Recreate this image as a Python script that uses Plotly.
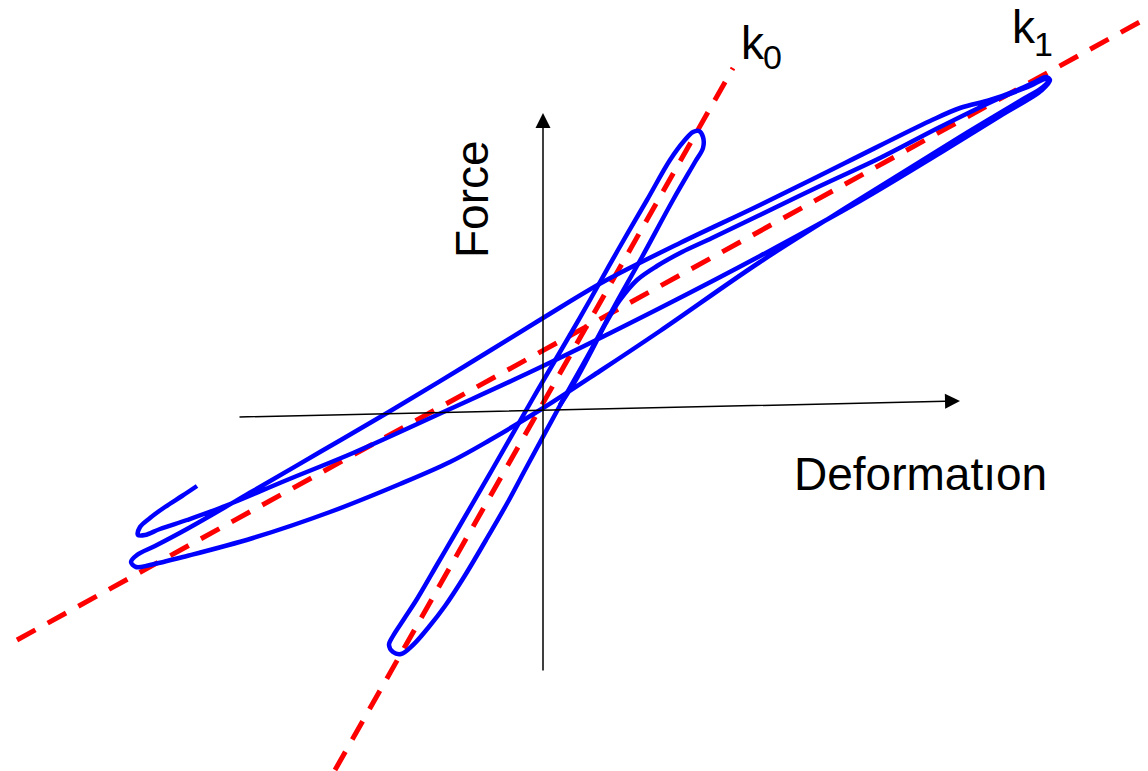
import plotly.graph_objects as go

# ---- data (deformation, force) in arbitrary units, origin at axes crossing ----
# small-amplitude cycle along k0
k0_cycle_deformation = [-142, -150, -154, -150, -139, -126, -105, -84, -51, -11, 24, 47, 75, 104, 127, 141, 150, 156,
                        160, 160, 152, 130, 99, 71, 48, 20, -18, -34, -57, -79, -98, -115, -130, -142]
k0_cycle_force = [-242, -240, -233, -224, -207, -187, -151, -115, -58, 12, 72, 112, 162, 212, 252, 271, 280, 281,
                  275, 264, 250, 212, 155, 105, 62, 12, -58, -88, -128, -165, -194, -216, -233, -242]

# large-amplitude path along k1 (in time order)
loading_1_deformation = [17, 34, 49, 63, 77, 94, 114, 139, 169, 217, 277, 337, 397, 457, 487, 502, 506]
loading_1_force = [7, 34, 62, 89, 112, 132, 146, 160, 174, 197, 226, 254, 285, 314, 326, 333, 332]

unloading_1_deformation = [500, 477, 417, 317, 217, 117, 57, -3, -53, -93, -143, -213, -290, -356, -393, -407, -412]
unloading_1_force = [325, 311, 275, 213, 150, 81, 41, 2, -28, -50, -72, -100, -126, -144, -153, -155, -150]

loading_2_deformation = [-406, -388, -356, -290, -223, -156, -78, 0, 60, 137, 217,
                         302, 387, 417, 447, 472, 492, 503, 507]
loading_2_force = [-143, -134, -117, -79, -40, -1, 46, 94, 130, 169, 207,
                   249, 291, 304, 312, 321, 330, 335, 332]

unloading_2_deformation = [499, 457, 397, 317, 217, 117, 0, -93, -190, -256, -323, -356, -383,
                           -398, -405, -403, -393, -378, -361, -346]
unloading_2_force = [322, 296, 259, 211, 156, 104, 46, 3, -41, -68, -96, -108, -117,
                     -123, -123, -115, -106, -95, -84, -74]

# stiffness reference lines
k0_line_deformation = [-208, 190]
k0_line_force = [-358, 344]
k1_line_deformation = [-526, 604]
k1_line_force = [-228, 394]

# coordinate axes (start, end)
h_axis_deformation = [-305, 417]
h_axis_force = [-5, 11]
v_axis_deformation = [0, 0]
v_axis_force = [-260, 299]

BLUE = "#0000ff"
RED = "#ff0000"
FONT = "Liberation Sans, Arial, sans-serif"

fig = go.Figure()

# red dashed stiffness lines
for xs, ys in [(k1_line_deformation, k1_line_force), (k0_line_deformation, k0_line_force)]:
    fig.add_trace(go.Scatter(x=xs, y=ys, mode="lines",
                             line=dict(color=RED, width=5, dash="21px,14px"),
                             hoverinfo="skip"))

# blue hysteresis curves
fig.add_trace(go.Scatter(x=k0_cycle_deformation, y=k0_cycle_force, mode="lines",
                         line=dict(color=BLUE, width=4.5, shape="spline", smoothing=1.0),
                         hoverinfo="skip"))

path_x = loading_1_deformation + unloading_1_deformation + loading_2_deformation + unloading_2_deformation
path_y = loading_1_force + unloading_1_force + loading_2_force + unloading_2_force
fig.add_trace(go.Scatter(x=path_x, y=path_y, mode="lines",
                         line=dict(color=BLUE, width=4.5, shape="spline", smoothing=1.0),
                         hoverinfo="skip"))

# axes arrows
for xs, ys in [(h_axis_deformation, h_axis_force), (v_axis_deformation, v_axis_force)]:
    fig.add_annotation(x=xs[1], y=ys[1], ax=xs[0], ay=ys[0], xref="x", yref="y",
                       axref="x", ayref="y", text="", showarrow=True,
                       arrowhead=2, arrowsize=2, arrowwidth=1.5, arrowcolor="black", standoff=0)

# labels
txt = dict(family=FONT, size=46, color="black")
sub = dict(family=FONT, size=34, color="black")
fig.add_annotation(x=-71, y=213, text="Force", textangle=-90, showarrow=False, font=txt)
fig.add_annotation(x=377, y=-62, text="Deformatıon", showarrow=False, font=txt)
fig.add_annotation(x=196, y=369, xanchor="left", text="k", showarrow=False, font=txt)
fig.add_annotation(x=229, y=355, text="0", showarrow=False, font=sub)
fig.add_annotation(x=467, y=385, xanchor="left", text="k", showarrow=False, font=txt)
fig.add_annotation(x=500, y=368, text="1", showarrow=False, font=sub)

fig.update_layout(
    width=1148, height=771,
    margin=dict(l=0, r=0, t=0, b=0),
    paper_bgcolor="white", plot_bgcolor="white",
    showlegend=False,
    xaxis=dict(visible=False, range=[-543, 605], fixedrange=True),
    yaxis=dict(visible=False, range=[-359, 412], fixedrange=True),
)

fig.write_html("out.html")
